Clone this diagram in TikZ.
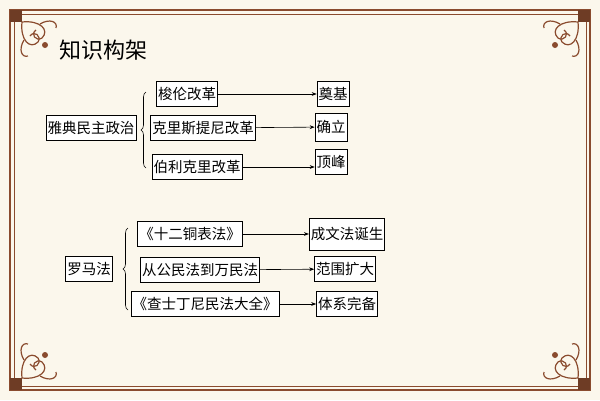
\documentclass[tikz,border=0pt]{standalone}
\usepackage{fontspec}
\newfontfamily\cjk{Noto Sans CJK SC}
\usetikzlibrary{decorations.pathreplacing,arrows.meta}
\definecolor{bg}{HTML}{FBF7EC}
\definecolor{brn}{HTML}{8A4B2E}
\begin{document}
\begin{tikzpicture}[x=1pt,y=-1pt,
  bx/.style={draw=black,line width=0.6pt,fill=white,inner sep=1.5pt,font=\cjk\fontsize{14.5}{16}\selectfont,minimum height=25pt},
  ar/.style={-{Stealth[length=5pt]},line width=0.6pt},
  br/.style={decorate,decoration={brace,amplitude=5pt},line width=0.6pt},
  orn/.style={brn,line width=1.2pt}]
\useasboundingbox (0,0) rectangle (600,400);
\fill[bg] (0,0) rectangle (600,400);
\draw[brn,line width=1.5pt] (10,10) rectangle (590,390);
\draw[brn,line width=0.5pt] (14,14) rectangle (586,386);
\foreach \cx/\cy/\sx/\sy in {10/10/1/1,590/10/-1/1,10/390/1/-1,590/390/-1/-1}{
  \begin{scope}[shift={(\cx,\cy)},xscale=\sx,yscale=\sy]
    \fill[brn!80!black] (0,0) rectangle (12,12);
    \draw[orn] (12,12) .. controls (30,10) and (40,20) .. (32,28) .. controls (26,32) and (20,24) .. (26,20);
    \draw[orn] (12,12) .. controls (10,30) and (20,40) .. (28,32) .. controls (32,26) and (24,20) .. (20,26);
    \draw[orn] (30,14) .. controls (40,8) and (48,12) .. (46,18);
    \draw[orn] (14,30) .. controls (8,40) and (12,48) .. (18,46);
    \fill[brn] (35,35) circle (3);
  \end{scope}}
\node[font=\cjk\fontsize{22}{26}\selectfont] (t) at (103,50) {知识构架};
\node[bx] (a) at (91,128) {雅典民主政治};
\node[bx] (a1) at (187,94) {梭伦改革};
\node[bx] (a2) at (203,128) {克里斯提尼改革};
\node[bx] (a3) at (197,167) {伯利克里改革};
\node[bx] (b1) at (333,94) {奠基};
\node[bx,minimum height=28pt] (b2) at (331,127) {确立};
\node[bx] (b3) at (331,162) {顶峰};
\draw[br] (146,168) -- (146,92);
\draw[ar] (a1) -- (b1);
\draw[ar] (a2) -- (b2);
\draw[ar] (a3.east) -- (a3.east -| b3.west);
\node[bx] (r) at (89,269) {罗马法};
\node[bx] (r1) at (190,234) {《十二铜表法》};
\node[bx] (r2) at (200,270) {从公民法到万民法};
\node[bx] (r3) at (205,304) {《查士丁尼民法大全》};
\node[bx,minimum height=32pt] (s1) at (347,234) {成文法诞生};
\node[bx] (s2) at (345,269) {范围扩大};
\node[bx] (s3) at (347,304) {体系完备};
\draw[br] (128,310) -- (128,228);
\draw[ar] (r1) -- (s1);
\draw[ar] (r2) -- (s2);
\draw[ar] (r3) -- (s3);
\end{tikzpicture}
\end{document}
